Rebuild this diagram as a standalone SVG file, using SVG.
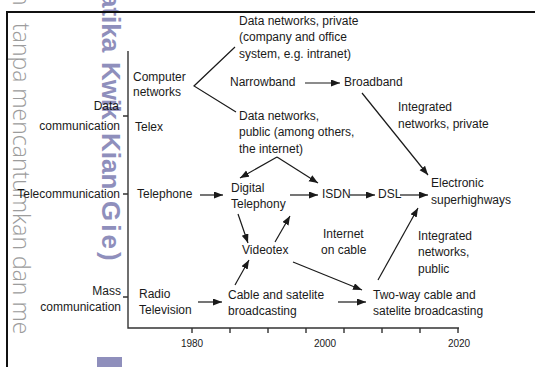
<svg xmlns="http://www.w3.org/2000/svg" width="535" height="367" viewBox="0 0 535 367">
  <defs>
    <marker id="arrow" markerUnits="userSpaceOnUse" markerWidth="10" markerHeight="8" refX="9" refY="3.5" orient="auto">
      <path d="M0,0 L9,3.5 L0,7 z" fill="#1a1a1a"/>
    </marker>
    <style>
      text { font-family: "Liberation Sans", Arial, sans-serif; font-size: 12px; fill: #1a1a1a; }
      .end { text-anchor: end; }
      .year { font-size: 10px; text-anchor: middle; }
      .axis { stroke: #333; stroke-width: 1.4; fill: none; }
      .edge { stroke: #1a1a1a; stroke-width: 1.2; fill: none; }
      .arr { marker-end: url(#arrow); }
      .frame { stroke: #111; stroke-width: 2; fill: none; }
      .wm-gray { font-family: "Open Sans", "DejaVu Sans", sans-serif; font-weight: 300; font-size: 23px; fill: #9c9c9c; }
      .wm-blue { font-family: "Liberation Sans", Arial, sans-serif; font-weight: bold; font-size: 26px; fill: #8383b5; }
    </style>
  </defs>

  <rect width="535" height="367" fill="#ffffff"/>

  <!-- overprinted marks along the left margin (underneath the diagram) -->
  <g id="margin-marks">
    <text class="wm-gray" transform="translate(13,0) rotate(90)"><tspan x="-8">n</tspan><tspan x="23">tanpa mencantumkan dan me</tspan></text>
    <text class="wm-blue" transform="translate(102,0) rotate(90)" opacity="0.9"><tspan x="-7">atika</tspan><tspan x="62" letter-spacing="-1">Kwik</tspan><tspan x="133">Kian</tspan><tspan x="201" letter-spacing="3">Gie)</tspan></text>
    <rect x="97" y="357" width="25" height="10" fill="#8383b5" opacity="0.9"/>
  </g>

  <!-- page frame -->
  <path class="frame" d="M7,367 V12 H535"/>

  <!-- time / category axes -->
  <g id="axes">
    <path class="axis" d="M128,51 V328 H459"/>
    <path class="axis" d="M123,116 H128 M123,194 H128 M123,297 H128"/>
    <path class="axis" d="M192,328 v5 M230,328 v5 M268,328 v5 M306,328 v5 M344,328 v5 M382,328 v5 M420,328 v5 M458,328 v5"/>
    <text class="year" x="192" y="347">1980</text>
    <text class="year" x="325" y="347">2000</text>
    <text class="year" x="459" y="347">2020</text>
  </g>

  <!-- category labels -->
  <g id="cat-data">
    <text class="end" x="119" y="110">Data</text>
    <text class="end" x="120" y="130">communication</text>
  </g>
  <g id="cat-tele">
    <text class="end" x="120" y="198">Telecommunication</text>
  </g>
  <g id="cat-mass">
    <text class="end" x="121" y="295">Mass</text>
    <text class="end" x="121" y="311">communication</text>
  </g>

  <!-- nodes -->
  <g id="computer-networks">
    <text x="133" y="81">Computer</text>
    <text x="133" y="96">networks</text>
  </g>
  <g id="telex"><text x="135" y="131">Telex</text></g>
  <g id="data-private">
    <text x="239" y="25">Data networks, private</text>
    <text x="239" y="41">(company and office</text>
    <text x="239" y="58">system, e.g. intranet)</text>
  </g>
  <g id="narrowband"><text x="230" y="86">Narrowband</text></g>
  <g id="broadband"><text x="344" y="86">Broadband</text></g>
  <g id="integrated-private">
    <text x="398" y="111">Integrated</text>
    <text x="398" y="128">networks, private</text>
  </g>
  <g id="data-public">
    <text x="239" y="120">Data networks,</text>
    <text x="239" y="136">public (among others,</text>
    <text x="239" y="153">the internet)</text>
  </g>
  <g id="telephone"><text x="137" y="198">Telephone</text></g>
  <g id="digital-telephony">
    <text x="231" y="192">Digital</text>
    <text x="231" y="208">Telephony</text>
  </g>
  <g id="isdn"><text x="322" y="198">ISDN</text></g>
  <g id="dsl"><text x="378" y="198">DSL</text></g>
  <g id="superhighways">
    <text x="431" y="187">Electronic</text>
    <text x="431" y="204">superhighways</text>
  </g>
  <g id="videotex"><text x="242" y="254">Videotex</text></g>
  <g id="internet-cable">
    <text x="323" y="238">Internet</text>
    <text x="321" y="254">on cable</text>
  </g>
  <g id="integrated-public">
    <text x="418" y="240">Integrated</text>
    <text x="418" y="256">networks,</text>
    <text x="418" y="273">public</text>
  </g>
  <g id="radio-tv">
    <text x="139" y="298">Radio</text>
    <text x="139" y="314">Television</text>
  </g>
  <g id="cable-sat">
    <text x="228" y="299">Cable and satelite</text>
    <text x="228" y="315">broadcasting</text>
  </g>
  <g id="two-way">
    <text x="373" y="299">Two-way cable and</text>
    <text x="373" y="315">satelite broadcasting</text>
  </g>

  <!-- connectors -->
  <g id="connectors">
    <path class="edge" d="M235,47 L194,86 L236,112"/>
    <path class="edge arr" d="M305,83 H340"/>
    <path class="edge arr" d="M362,93 L428,175"/>
    <path class="edge arr" d="M277,157 L240,178"/>
    <path class="edge arr" d="M277,157 L318,183"/>
    <path class="edge arr" d="M200,195 H223"/>
    <path class="edge arr" d="M290,195 H318"/>
    <path class="edge arr" d="M350,195 H375"/>
    <path class="edge arr" d="M400,195 H428"/>
    <path class="edge arr" d="M238,214 L248,243"/>
    <path class="edge arr" d="M275,242 L290,216"/>
    <path class="edge arr" d="M235,285 L249,260"/>
    <path class="edge arr" d="M293,262 L362,290"/>
    <path class="edge arr" d="M198,302 H222"/>
    <path class="edge arr" d="M338,302 H366"/>
    <path class="edge arr" d="M378,280 L418,208"/>
  </g>
</svg>
